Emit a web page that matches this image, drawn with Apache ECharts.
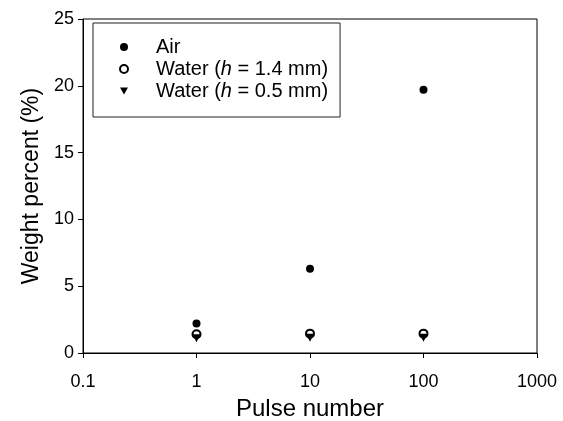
<!DOCTYPE html>
<html>
<head>
    <meta charset="utf-8">
    <title>Weight percent vs pulse number</title>
</head>
<body style="margin: 0">
<div id="container" style="width: 563px; height: 421px"></div>

<script src="https://cdn.jsdelivr.net/npm/echarts@6/dist/echarts.min.js" type="text/javascript"></script>
<script type="text/javascript">
    // data
    var pulses = [1, 10, 100];
    var air = [2.2, 6.3, 19.7];
    var water14 = [1.4, 1.45, 1.45];
    var water05 = [1.1, 1.15, 1.15];
    var xTickLabels = ['0.1', '1', '10', '100', '1000'];

    function pairs(ys) {
        return pulses.map(function (x, i) { return [x, ys[i]]; });
    }

    var font = 'Liberation Sans, Arial, sans-serif';
    var downTriangle = 'path://M0,0L10,0L5,9Z';
    var dom = document.getElementById('container');
    var myChart = echarts.init(dom);

    var option = {
        animation: false,
        grid: {
            left: 83, right: 26, top: 19, bottom: 68,
            outerBoundsMode: 'none',
            show: true, borderColor: '#000', borderWidth: 1
        },
        legend: {
            orient: 'vertical',
            left: 93, top: 23,
            padding: [14, 12, 16, 26],
            itemWidth: 8, itemHeight: 8, itemGap: 2,
            symbolKeepAspect: true,
            borderColor: '#222', borderWidth: 1,
            data: [
                {name: 'Air', icon: 'circle'},
                {name: 'Water (h = 1.4 mm)', icon: 'emptyCircle'},
                {name: 'Water (h = 0.5 mm)', icon: downTriangle}
            ],
            formatter: function (name) {
                var m = name.match(/^Water \(h = (.*)\)$/);
                if (!m) return '{s|}{n|' + name + '}';
                return '{s|}{n|Water (}{i|h}{n| = ' + m[1] + ')}';
            },
            textStyle: {
                fontFamily: font, fontSize: 20, color: '#000',
                rich: {
                    s: {width: 23},
                    n: {fontFamily: font, fontSize: 20, color: '#000'},
                    i: {fontFamily: font, fontSize: 20, color: '#000', fontStyle: 'italic'}
                }
            }
        },
        xAxis: {
            type: 'log', logBase: 10, min: 0.1, max: 1000,
            name: 'Pulse number', nameLocation: 'middle', nameGap: 44,
            nameTextStyle: {fontFamily: font, fontSize: 24, color: '#000'},
            axisLine: {lineStyle: {color: '#000', width: 1}},
            axisTick: {length: 5, lineStyle: {color: '#000'}},
            minorTick: {show: false},
            splitLine: {show: false},
            axisLabel: {
                margin: 20, fontFamily: font, fontSize: 18, color: '#000',
                formatter: function (v) {
                    var k = Math.round(Math.log10(v)) + 1;
                    return xTickLabels[k] || '';
                }
            }
        },
        yAxis: {
            type: 'value', min: 0, max: 25, interval: 5,
            name: 'Weight percent (%)', nameLocation: 'middle', nameGap: 40,
            nameTextStyle: {fontFamily: font, fontSize: 23, color: '#000'},
            axisLine: {show: true, lineStyle: {color: '#000', width: 1}},
            axisTick: {show: true, length: 5, lineStyle: {color: '#000'}},
            splitLine: {show: false},
            axisLabel: {margin: 9, fontFamily: font, fontSize: 18, color: '#000'}
        },
        series: [
            {
                name: 'Air', type: 'scatter', symbol: 'circle', symbolSize: 8,
                itemStyle: {color: '#000', opacity: 1},
                data: pairs(air)
            },
            {
                name: 'Water (h = 1.4 mm)', type: 'scatter', symbol: 'emptyCircle', symbolSize: 8,
                itemStyle: {color: '#000', borderColor: '#000', borderWidth: 1.5, opacity: 1},
                data: pairs(water14)
            },
            {
                name: 'Water (h = 0.5 mm)', type: 'scatter', symbol: downTriangle, symbolSize: [8, 8],
                itemStyle: {color: '#000', opacity: 1},
                data: pairs(water05)
            }
        ]
    };

    myChart.setOption(option);
</script>
</body>
</html>
